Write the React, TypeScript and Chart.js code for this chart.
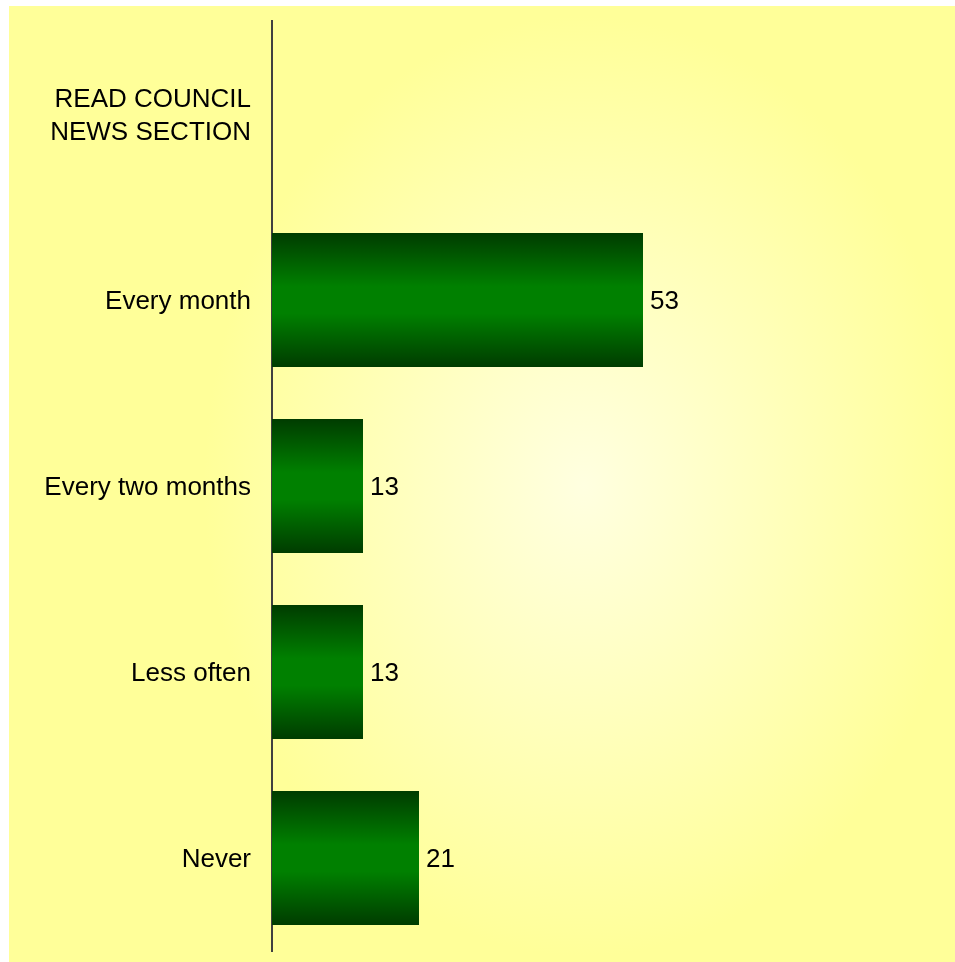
import React, { useEffect, useRef } from "react";
import { Chart, registerables } from "chart.js";

Chart.register(...registerables);

const categories: (string | string[])[] = [
  ["READ COUNCIL", "NEWS SECTION"],
  "Every month",
  "Every two months",
  "Less often",
  "Never",
];
const values: (number | null)[] = [null, 53, 13, 13, 21];
const xMin = 0;
const xMax = 96;

const FONT = "'Liberation Sans', Arial, sans-serif";
const BAR_PCT = 0.72;

const valueLabels = {
  id: "valueLabels",
  afterDatasetsDraw(chart: any) {
    const ctx = chart.ctx;
    const meta = chart.getDatasetMeta(0);
    ctx.save();
    ctx.font = `26px ${FONT}`;
    ctx.fillStyle = "#000000";
    ctx.textAlign = "left";
    ctx.textBaseline = "middle";
    meta.data.forEach((el: any, i: number) => {
      const v = values[i];
      if (v === null || v === undefined) return;
      ctx.fillText(String(v), el.x + 7, el.y + 2);
    });
    ctx.restore();
  },
};

export default function App() {
  const ref = useRef<HTMLCanvasElement | null>(null);
  useEffect(() => {
    document.body.style.overflow = "hidden";
    const canvas = ref.current;
    if (!canvas) return;
    const chart = new Chart(canvas, {
      type: "bar",
      data: {
        labels: categories,
        datasets: [
          {
            data: values as any,
            backgroundColor: (c: any) => {
              const ch = c.chart;
              const ys = ch.scales && ch.scales.y;
              if (!ys || !ch.chartArea || c.dataIndex === undefined) return "#008000";
              const center = ys.getPixelForValue(c.dataIndex);
              const step = ys.getPixelForValue(1) - ys.getPixelForValue(0);
              const half = (step * BAR_PCT) / 2;
              const g = ch.ctx.createLinearGradient(0, center - half, 0, center + half);
              g.addColorStop(0, "#003c00");
              g.addColorStop(0.4, "#008000");
              g.addColorStop(0.6, "#008000");
              g.addColorStop(1, "#003c00");
              return g;
            },
            borderWidth: 0,
            categoryPercentage: 1,
            barPercentage: BAR_PCT,
          },
        ],
      },
      options: {
        indexAxis: "y",
        responsive: false,
        animation: false,
        layout: { padding: { top: 15, bottom: 11, left: 0, right: 11 } },
        plugins: {
          legend: { display: false },
          tooltip: { enabled: false },
          title: { display: false },
        },
        scales: {
          x: {
            display: false,
            min: xMin,
            max: xMax,
          },
          y: {
            grid: { display: false, drawTicks: false, tickLength: 0 },
            border: { display: true, color: "#404040", width: 2 },
            ticks: {
              color: "#000000",
              padding: 21,
              labelOffset: 2,
              font: { family: FONT, size: 26, lineHeight: 1.27 },
            },
            afterFit: (s: any) => {
              s.width = 263;
              s.paddingTop = 0;
              s.paddingBottom = 0;
            },
          },
        },
      },
      plugins: [valueLabels],
    } as any);
    return () => chart.destroy();
  }, []);

  return (
    <div
      style={{
        position: "absolute",
        left: 9,
        top: 6,
        width: 946,
        height: 956,
        background:
          "radial-gradient(ellipse 380px 470px at 575px 480px, #FFFFE0 0%, #FFFFC4 40%, #FFFF99 100%)",
      }}
    >
      <canvas ref={ref} width={946} height={956} style={{ display: "block" }} />
    </div>
  );
}
